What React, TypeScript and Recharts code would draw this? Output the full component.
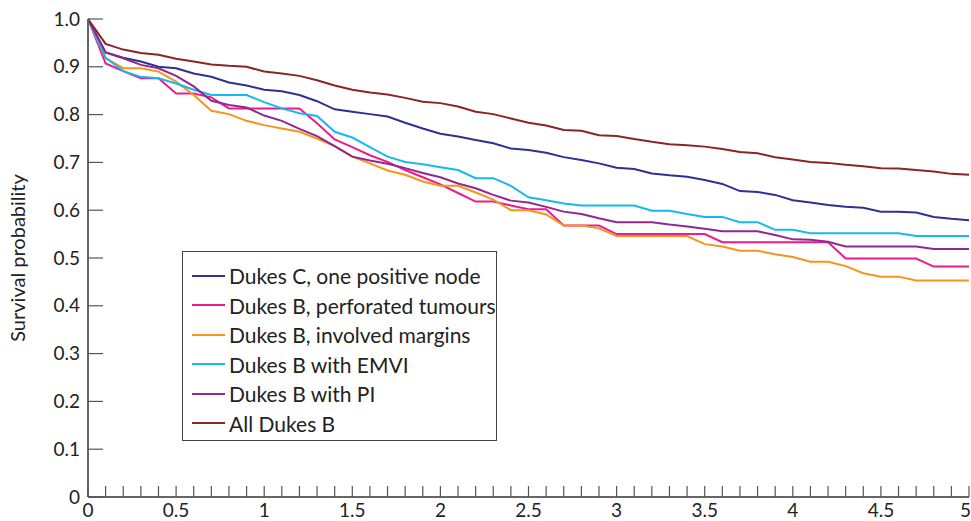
import React from "react";
import { LineChart, Line, XAxis, YAxis } from "recharts";

const times = [
  0, 0.1, 0.2, 0.3, 0.4, 0.5, 0.6, 0.7, 0.8, 0.9, 1, 1.1, 1.2, 1.3, 1.4, 1.5, 1.6, 1.7,
  1.8, 1.9, 2, 2.1, 2.2, 2.3, 2.4, 2.5, 2.6, 2.7, 2.8, 2.9, 3, 3.1, 3.2, 3.3, 3.4, 3.5,
  3.6, 3.7, 3.8, 3.9, 4, 4.1, 4.2, 4.3, 4.4, 4.5, 4.6, 4.7, 4.8, 4.9, 5,
];

const yTicks = [0, 0.1, 0.2, 0.3, 0.4, 0.5, 0.6, 0.7, 0.8, 0.9, 1];

const dukesC = [
  1, 0.93, 0.919, 0.911, 0.9, 0.897, 0.886, 0.879, 0.867, 0.861, 0.852, 0.849, 0.841,
  0.828, 0.811, 0.806, 0.801, 0.796, 0.783, 0.771, 0.76, 0.754, 0.747, 0.74, 0.729,
  0.726, 0.72, 0.711, 0.705, 0.698, 0.689, 0.686, 0.677, 0.673, 0.67, 0.663, 0.655,
  0.64, 0.638, 0.632, 0.621, 0.616, 0.611, 0.607, 0.605, 0.597, 0.597, 0.595, 0.586,
  0.582, 0.579,
];

const perforated = [
  1, 0.907, 0.891, 0.876, 0.876, 0.844, 0.844, 0.836, 0.813, 0.813, 0.813, 0.813, 0.813,
  0.782, 0.748, 0.732, 0.715, 0.701, 0.684, 0.669, 0.654, 0.636, 0.618, 0.618, 0.61,
  0.602, 0.602, 0.568, 0.568, 0.568, 0.55, 0.55, 0.55, 0.55, 0.55, 0.55, 0.533, 0.533,
  0.533, 0.533, 0.533, 0.533, 0.533, 0.499, 0.499, 0.499, 0.499, 0.499, 0.482, 0.482,
  0.482,
];

const margins = [
  1, 0.918, 0.897, 0.897, 0.89, 0.869, 0.841, 0.808, 0.801, 0.787, 0.778, 0.771, 0.764,
  0.75, 0.734, 0.712, 0.698, 0.683, 0.674, 0.66, 0.651, 0.651, 0.637, 0.622, 0.6, 0.6,
  0.591, 0.568, 0.568, 0.562, 0.546, 0.546, 0.546, 0.546, 0.546, 0.529, 0.524, 0.515,
  0.515, 0.508, 0.502, 0.492, 0.492, 0.483, 0.468, 0.461, 0.461, 0.453, 0.453, 0.453,
  0.453,
];

const emvi = [
  1, 0.919, 0.891, 0.879, 0.876, 0.865, 0.852, 0.841, 0.841, 0.841, 0.826, 0.813, 0.803,
  0.797, 0.764, 0.752, 0.732, 0.712, 0.701, 0.696, 0.69, 0.684, 0.667, 0.667, 0.651,
  0.627, 0.621, 0.614, 0.61, 0.61, 0.61, 0.61, 0.599, 0.599, 0.592, 0.586, 0.586, 0.575,
  0.575, 0.559, 0.559, 0.552, 0.552, 0.552, 0.552, 0.552, 0.552, 0.546, 0.546, 0.546,
  0.546,
];

const withPI = [
  1, 0.93, 0.918, 0.904, 0.897, 0.881, 0.859, 0.829, 0.82, 0.815, 0.798, 0.787, 0.77,
  0.755, 0.734, 0.712, 0.704, 0.697, 0.688, 0.678, 0.669, 0.656, 0.646, 0.632, 0.62,
  0.616, 0.607, 0.597, 0.592, 0.583, 0.575, 0.575, 0.575, 0.57, 0.566, 0.561, 0.556,
  0.556, 0.556, 0.548, 0.539, 0.538, 0.534, 0.524, 0.524, 0.524, 0.524, 0.524, 0.519,
  0.519, 0.519,
];

const allB = [
  1, 0.948, 0.936, 0.929, 0.925, 0.917, 0.911, 0.905, 0.902, 0.9, 0.89, 0.886, 0.881,
  0.872, 0.861, 0.852, 0.846, 0.842, 0.835, 0.827, 0.824, 0.817, 0.806, 0.801, 0.792,
  0.783, 0.777, 0.768, 0.766, 0.757, 0.755, 0.749, 0.743, 0.738, 0.736, 0.733, 0.728,
  0.722, 0.719, 0.711, 0.706, 0.701, 0.699, 0.695, 0.692, 0.688, 0.687, 0.684, 0.681,
  0.676, 0.674,
];

const series = [
  { key: "dukesC", name: "Dukes C, one positive node", color: "#2e3192", values: dukesC },
  { key: "perforated", name: "Dukes B, perforated tumours", color: "#ec1c8c", values: perforated },
  { key: "margins", name: "Dukes B, involved margins", color: "#f7941d", values: margins },
  { key: "emvi", name: "Dukes B with EMVI", color: "#16b9ef", values: emvi },
  { key: "withPI", name: "Dukes B with PI", color: "#92278f", values: withPI },
  { key: "allB", name: "All Dukes B", color: "#8b2525", values: allB },
];

const data = times.map((t, i) => {
  const row: Record<string, number> = { t };
  series.forEach((s) => {
    row[s.key] = s.values[i];
  });
  return row;
});

const FONT = "Lato, 'Open Sans', sans-serif";
const AXIS = "#666";

function XTick({ x, y, payload }: any) {
  const v = payload.value as number;
  const major = Math.abs(v * 2 - Math.round(v * 2)) < 1e-6;
  // last label sits flush against the right edge, like the original
  const last = v >= 5;
  return (
    <g>
      <line x1={x} x2={x} y1={y} y2={y - 11} stroke="#555" strokeWidth={1.2} />
      {major && (
        <text
          x={last ? x + 2 : x}
          y={y + 20}
          textAnchor={last ? "end" : "middle"}
          fontSize={19}
          fill="#222"
          fontFamily={FONT}
        >
          {String(Math.round(v * 10) / 10)}
        </text>
      )}
    </g>
  );
}

function YTick({ x, y, payload }: any) {
  const v = payload.value as number;
  return (
    <g>
      <line x1={x} x2={x + 15} y1={y} y2={y} stroke="#555" strokeWidth={1.2} />
      <text x={x - 8} y={y} dy="0.35em" textAnchor="end" fontSize={19} fill="#222" fontFamily={FONT}>
        {v === 0 ? "0" : v.toFixed(1)}
      </text>
    </g>
  );
}

function LegendBox() {
  return (
    <div
      style={{
        position: "absolute",
        left: 182,
        top: 251,
        border: "1.5px solid #444",
        background: "#fff",
        width: 315,
        height: 190,
        boxSizing: "border-box",
        padding: "9px 0 0 9px",
        fontFamily: FONT,
        fontSize: 21,
        color: "#222",
      }}
    >
      {series.map((s) => (
        <div key={s.key} style={{ display: "flex", alignItems: "center", height: 29.5 }}>
          <span style={{ display: "inline-block", width: 33, height: 2, background: s.color, marginRight: 4 }} />
          <span style={{ whiteSpace: "nowrap" }}>{s.name}</span>
        </div>
      ))}
    </div>
  );
}

export default function App() {
  return (
    <div style={{ position: "absolute", left: 0, top: 0, width: 971, height: 521, background: "#fff" }}>
      <LineChart
        width={971}
        height={521}
        data={data}
        margin={{ top: 19, right: 2, bottom: 0, left: 0 }}
      >
        <XAxis
          dataKey="t"
          type="number"
          domain={[0, 5]}
          ticks={times}
          interval={0}
          height={24}
          tickSize={0}
          tickMargin={0}
          tickLine={false}
          axisLine={{ stroke: AXIS, strokeWidth: 2 }}
          tick={<XTick />}
        />
        <YAxis
          type="number"
          domain={[0, 1]}
          ticks={yTicks}
          interval={0}
          width={88}
          tickSize={0}
          tickMargin={0}
          tickLine={false}
          axisLine={{ stroke: AXIS, strokeWidth: 2 }}
          tick={<YTick />}
          label={(props: any) => {
            const vb = props.viewBox || { y: 19, height: 478 };
            const cy = vb.y + vb.height / 2;
            return (
              <text
                x={18}
                y={cy}
                transform={`rotate(-90 18 ${cy})`}
                textAnchor="middle"
                dy="0.35em"
                fontSize={20}
                fill="#222"
                fontFamily={FONT}
              >
                Survival probability
              </text>
            );
          }}
        />
        {series.map((s) => (
          <Line
            key={s.key}
            dataKey={s.key}
            name={s.name}
            stroke={s.color}
            strokeWidth={2}
            dot={false}
            type="linear"
            isAnimationActive={false}
          />
        ))}
      </LineChart>
      <LegendBox />
    </div>
  );
}
